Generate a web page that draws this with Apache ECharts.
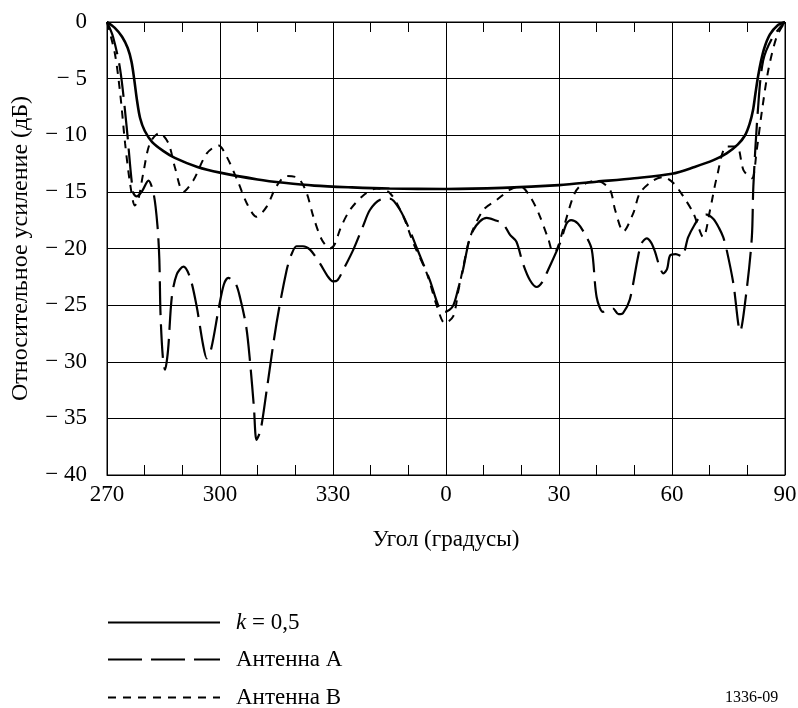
<!DOCTYPE html>
<html>
<head>
<meta charset="utf-8">
<script src="https://cdn.jsdelivr.net/npm/echarts@6/dist/echarts.min.js"></script>
<style>html,body{margin:0;padding:0;background:#fff}#c{width:798px;height:708px}</style>
</head>
<body>
<div id="c"></div>
<script>
// X ticks: angle positions (-90..90) and their labels
var xTickValues = [-90, -60, -30, 0, 30, 60, 90];
var xTickLabels = ['270', '300', '330', '0', '30', '60', '90'];
var yTickValues = [0, -5, -10, -15, -20, -25, -30, -35, -40];

// k = 0,5
var kAngles = [-90, -88, -86, -84.5, -83.5, -82.8, -82, -81.2, -80, -78, -75, -72, -66, -60, -50, -43, -35, -25, -15, 0, 15, 30, 40, 50, 60, 66, 71, 74.5, 77.5, 79.4, 80.6, 81.5, 82.2, 82.8, 83.6, 84.5, 86, 88, 90];
var kGain   = [0, -0.5, -1.3, -2.3, -3.5, -5, -7, -8.5, -9.6, -10.6, -11.4, -12.0, -12.8, -13.3, -13.9, -14.2, -14.45, -14.6, -14.7, -14.75, -14.65, -14.4, -14.1, -13.8, -13.4, -12.8, -12.2, -11.6, -10.8, -10.0, -9.0, -7.8, -6.2, -4.9, -3.5, -2.3, -1.1, -0.3, 0];

// Антенна A
var aAngles = [-90, -88.4, -86.5, -84.8, -83.1, -82.2, -80.8, -79, -77.6, -76.6, -76.1, -75.8, -75.2, -74.6, -73.8, -72.8, -71.5, -69.7, -68, -66.2, -64.5, -63.5, -62.3, -60.4, -59, -57.8, -56, -54.7, -53, -52, -51, -50.3, -49.2, -47.6, -45, -42.3, -41, -39.7, -38, -36.1, -33.5, -31.3, -30, -28.8, -27.3, -24.6, -22, -20.2, -17.5, -14.9, -12.2, -9.6, -7.7, -4.3, -1.6, -0.3, 1.8, 3.2, 4.5, 6.0, 7.2, 9, 10.8, 13, 15.1, 17, 18.7, 20.4, 22.3, 24.1, 25.5, 27.1, 30.3, 32, 33.2, 35, 37, 38.7, 40, 41.7, 43, 44.3, 45.8, 47, 48.8, 51, 52, 53.3, 54.5, 55.5, 56.7, 57.7, 58.7, 59.5, 61, 62.6, 64.3, 66, 67.5, 69.2, 71, 72.5, 73.6, 74.5, 76.3, 78.1, 79.8, 81.2, 81.6, 82.8, 84.2, 86.8, 90];
var aGain   = [0, -1.3, -4.2, -9.2, -15.0, -15.4, -15.0, -14.0, -15.2, -18, -21, -25.7, -29.5, -30.7, -29, -24.3, -22.3, -21.6, -22.5, -25.1, -28.5, -29.7, -28.8, -25.4, -23.2, -22.6, -23.0, -24.3, -27, -30.1, -34, -36.9, -36, -32.5, -26.6, -21.9, -20.5, -19.8, -19.8, -20.1, -21.3, -22.5, -22.9, -22.8, -21.9, -20.1, -18, -16.6, -15.7, -15.6, -16.6, -18.4, -20.0, -22.8, -25.4, -25.6, -25.1, -23.6, -21.9, -19.5, -18.4, -17.6, -17.3, -17.5, -17.8, -18.8, -19.4, -21.3, -22.8, -23.4, -23.0, -21.9, -19.5, -17.8, -17.5, -17.8, -18.8, -20.1, -24.3, -25.6, -25.4, -25.3, -25.8, -25.7, -24.5, -20.7, -19.5, -19.1, -19.5, -20.3, -21.6, -22.2, -21.8, -20.6, -20.5, -20.7, -19.0, -17.9, -17.2, -17.0, -17.4, -18.2, -19.0, -20.1, -23.1, -27.3, -23.7, -19.0, -14.5, -7.8, -3.4, -1.3, 0];

// Антенна B
var bAngles = [-90, -87.9, -86.5, -85.2, -83.9, -82.6, -81.7, -80.4, -78.6, -76.1, -73.7, -72.0, -69.7, -67.1, -63.5, -60.4, -58.2, -55.1, -52.9, -50.3, -47.6, -45, -42.3, -39.2, -37, -35.2, -33, -30.8, -29.5, -28, -25.5, -21.9, -18.4, -14.9, -11.3, -8.7, -5.1, -2.4, -0.3, 1.9, 3.3, 4.6, 6.4, 9.9, 13.5, 17, 19.7, 22.3, 24.6, 27.2, 28.4, 29.4, 31.2, 33.8, 35.6, 40, 43.5, 44.9, 47.1, 49.7, 51.5, 55, 57.7, 60.3, 63, 65.7, 68.3, 70.1, 71.9, 74.5, 77.2, 79, 81.2, 82.5, 83.9, 85.6, 87.8, 90];
var bGain   = [0, -2.8, -6.3, -10.7, -14.2, -16.2, -15.7, -13.4, -10.7, -9.8, -10.7, -12.8, -15.0, -14.0, -11.6, -10.9, -11.9, -14.2, -16.0, -17.2, -16.3, -14.5, -13.6, -13.8, -15.1, -17.2, -19.2, -20.0, -19.6, -18.2, -16.6, -15.3, -14.7, -15.1, -17.2, -19.5, -22.2, -25.1, -26.6, -26.0, -23.7, -21.6, -19.0, -16.6, -15.7, -14.8, -14.5, -15.4, -16.9, -19.2, -20.3, -20.1, -18.2, -15.4, -14.5, -14.0, -14.8, -16.6, -18.5, -16.9, -15.1, -14.0, -13.7, -14.2, -15.4, -16.9, -19.0, -16.6, -13.7, -11.0, -11.0, -13.1, -13.8, -11.3, -7.8, -4.2, -1.3, 0];

var seriesNames = ['k = 0,5', 'Антенна A', 'Антенна B'];

function zip(xs, ys) { return xs.map(function (x, i) { return [x, ys[i]]; }); }

var FONT = 'Liberation Serif';
var FS = 23;
var chart = echarts.init(document.getElementById('c'), null, { renderer: 'canvas' });

var xCommon = {
  type: 'value', min: -90, max: 90, interval: 30,
  axisLine: { show: true, onZero: false, lineStyle: { color: '#000', width: 1 } },
  axisTick: { show: true, inside: true, length: 10, lineStyle: { color: '#000' } },
  minorTick: { show: true, splitNumber: 3, length: 10, lineStyle: { color: '#000' } }
};

function makeLegend(idx, top) {
  return {
    orient: 'vertical', left: 107, top: top, itemWidth: 112, itemHeight: 14, padding: 0,
    data: [seriesNames[idx]],
    itemStyle: { opacity: 0, color: 'rgba(0,0,0,0)', borderColor: 'rgba(0,0,0,0)', borderWidth: 0 },
    textStyle: {
      fontFamily: FONT, fontSize: FS, color: '#000', padding: [0, 0, 0, 11],
      rich: { i: { fontFamily: FONT, fontSize: FS, fontStyle: 'italic', color: '#000' } }
    },
    formatter: function (n) { return n === 'k = 0,5' ? '{i|k} = 0,5' : n; }
  };
}

chart.setOption({
  animation: false,
  backgroundColor: '#fff',
  grid: { left: 107, right: 13, top: 22, bottom: 233, containLabel: false, outerBoundsMode: 'none',
          show: true, borderColor: '#000', borderWidth: 1, backgroundColor: 'transparent' },
  xAxis: [
    Object.assign({}, xCommon, {
      position: 'bottom',
      name: 'Угол (градусы)', nameLocation: 'middle', nameGap: 53,
      nameTextStyle: { fontFamily: FONT, fontSize: FS, color: '#000' },
      axisLabel: {
        margin: 8, fontFamily: FONT, fontSize: FS, color: '#000',
        formatter: function (v) { var i = xTickValues.indexOf(v); return i >= 0 ? xTickLabels[i] : ''; }
      },
      splitLine: { show: true, lineStyle: { color: '#000', width: 1 } }
    }),
    Object.assign({}, xCommon, {
      position: 'top',
      axisLabel: { show: false },
      splitLine: { show: false }
    })
  ],
  yAxis: {
    type: 'value', min: -40, max: 0, interval: 5,
    name: 'Относительное усиление (дБ)', nameLocation: 'middle', nameGap: 74,
    nameTextStyle: { fontFamily: FONT, fontSize: 24, color: '#000' },
    axisLine: { show: true, onZero: false, lineStyle: { color: '#000' } },
    axisTick: { show: false },
    axisLabel: {
      margin: 20, fontFamily: FONT, fontSize: FS, color: '#000',
      formatter: function (v) { return yTickValues.indexOf(v) < 0 ? '' : (v === 0 ? '0' : '\u2212 ' + (-v)); }
    },
    splitLine: { show: true, lineStyle: { color: '#000', width: 1 } }
  },
  legend: [makeLegend(0, 611), makeLegend(1, 648), makeLegend(2, 686)],
  graphic: [
    { type: 'text', left: 725, top: 690, style: { text: '1336-09', font: '16px "Liberation Serif"', fill: '#000' } }
  ],
  series: [
    { name: seriesNames[0], type: 'line', data: zip(kAngles, kGain), showSymbol: false, symbol: 'none', smooth: 0.3, color: '#000',
      lineStyle: { color: '#000', width: 2.6, type: 'solid' } },
    { name: seriesNames[1], type: 'line', data: zip(aAngles, aGain), showSymbol: false, symbol: 'none', smooth: 0.3, color: '#000',
      lineStyle: { color: '#000', width: 2.2, type: [34, 9] } },
    { name: seriesNames[2], type: 'line', data: zip(bAngles, bGain), showSymbol: false, symbol: 'none', smooth: 0.3, color: '#000',
      lineStyle: { color: '#000', width: 2, type: [8, 7] } }
  ]
});
</script>
</body>
</html>
